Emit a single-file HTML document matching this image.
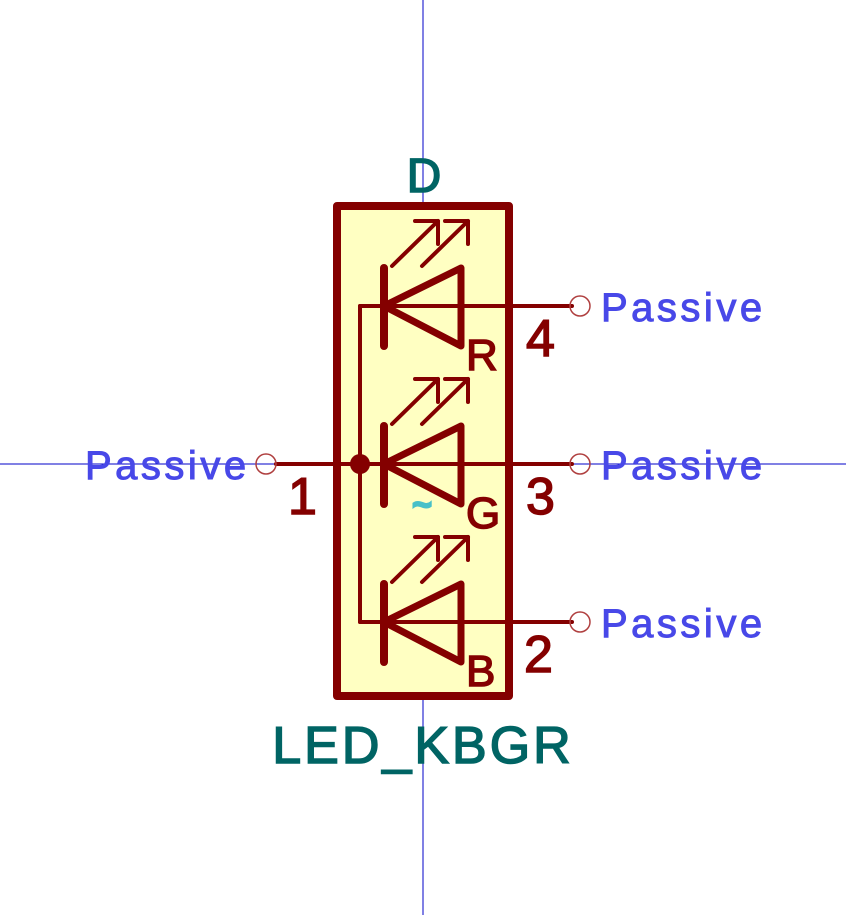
<!DOCTYPE html>
<html><head><meta charset="utf-8"><style>
html,body{margin:0;padding:0;background:#fff;}
svg{display:block;}
text{font-family:"Liberation Sans","DejaVu Sans",sans-serif;}
</style></head><body>
<svg width="846" height="915" viewBox="0 0 846 915">
<rect width="846" height="915" fill="#fff"/>
<line x1="423" y1="0" x2="423" y2="915" stroke="#0000c8" stroke-width="1"/>
<line x1="0" y1="464" x2="846" y2="464" stroke="#0000c8" stroke-width="1"/>

<rect x="337" y="206" width="172" height="490" fill="#ffffc2" stroke="#840000" stroke-width="8" stroke-linejoin="round"/>

<g stroke="#840000" stroke-width="4" fill="none" stroke-linecap="round">
<line x1="360" y1="306" x2="360" y2="622"/>
<line x1="360" y1="306" x2="572" y2="306"/>
<line x1="276" y1="464" x2="572" y2="464"/>
<line x1="360" y1="622" x2="572" y2="622"/>
</g>
<circle cx="360" cy="464" r="10" fill="#840000"/>

<g id="led" stroke="#840000" stroke-width="8" fill="none" stroke-linecap="round" stroke-linejoin="round">
<line x1="384" y1="268" x2="384" y2="346"/>
<polygon points="384,306 461,268 461,346" stroke-width="7"/>
<g stroke-width="4">
<line x1="392" y1="266" x2="438" y2="221"/>
<polyline points="415,221 438,221 438,244"/>
<line x1="422" y1="266" x2="468" y2="221"/>
<polyline points="445,221 468,221 468,244"/>
</g>
</g>
<use href="#led" y="158"/>
<use href="#led" y="316"/>

<g fill="none" stroke="#b04040" stroke-width="1.5">
<circle cx="580" cy="306" r="10"/>
<circle cx="580" cy="464" r="10"/>
<circle cx="580" cy="622" r="10"/>
<circle cx="266" cy="464" r="10"/>
</g>

<g fill="#840000" stroke="#840000" stroke-width="1.5" font-size="52">
<text x="466" y="370" font-size="44">R</text>
<text x="466" y="528" font-size="44">G</text>
<text x="466" y="686" font-size="44">B</text>
<text x="526" y="356">4</text>
<text x="526" y="514">3</text>
<text x="524" y="672">2</text>
<text x="288" y="514">1</text>
</g>

<g fill="#4848e8" stroke="#4848e8" stroke-width="1" font-size="40">
<text x="601" y="321" letter-spacing="3.5">Passive</text>
<text x="601" y="479" letter-spacing="3.5">Passive</text>
<text x="601" y="637" letter-spacing="3.5">Passive</text>
<text x="85" y="479" letter-spacing="3.5">Passive</text>
</g>

<text x="424" y="192" text-anchor="middle" fill="#006464" stroke="#006464" stroke-width="1.5" font-size="48">D</text>
<text x="423" y="763" text-anchor="middle" fill="#006464" stroke="#006464" stroke-width="1.5" font-size="52" letter-spacing="3">LED_KBGR</text>
<text x="422" y="516" text-anchor="middle" fill="#48c0c8" stroke="#48c0c8" stroke-width="2" font-size="34" font-weight="bold">~</text>
</svg>
</body></html>
